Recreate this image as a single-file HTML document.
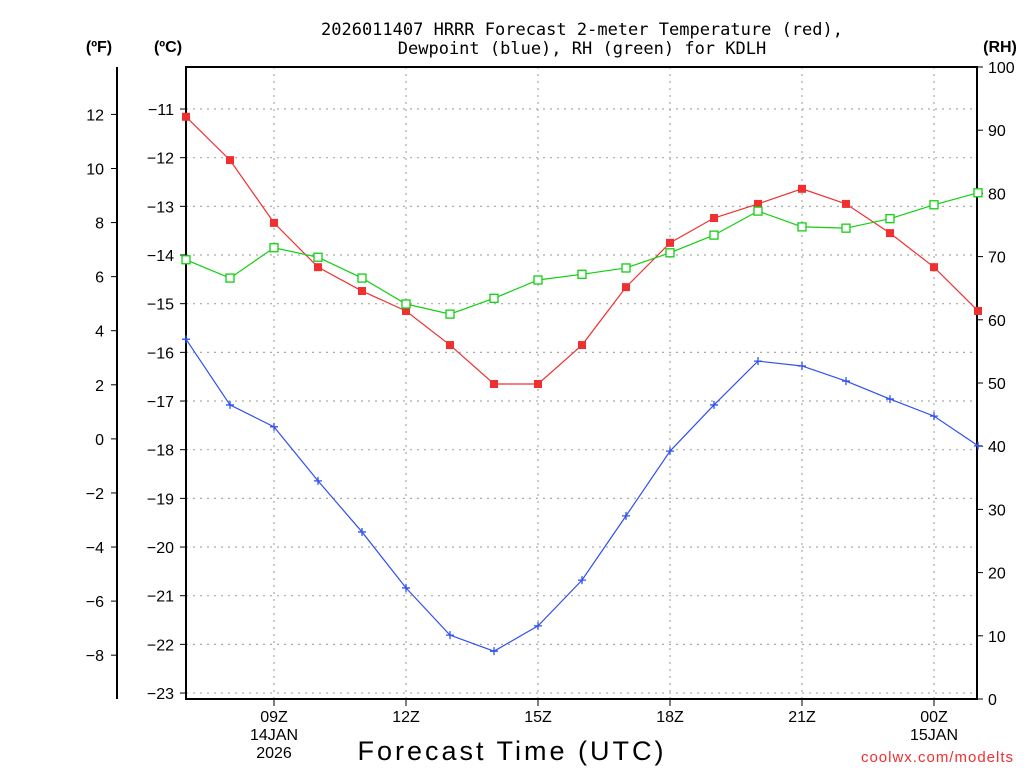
<!DOCTYPE html>
<html><head><meta charset="utf-8"><style>
body{margin:0;background:#fff;width:1024px;height:768px;overflow:hidden}
svg{font-family:"Liberation Sans","DejaVu Sans",sans-serif}
</style></head><body>
<svg id="chart" width="1024" height="768" viewBox="0 0 1024 768" xmlns="http://www.w3.org/2000/svg">
<g id="grid"></g>
<g id="axes"></g>
<g id="series"></g>
<text x="582" y="35" text-anchor="middle" font-size="17" fill="#000" font-family="DejaVu Sans Mono, Liberation Mono, monospace">2026011407 HRRR Forecast 2-meter Temperature (red),</text>
<text x="582" y="54" text-anchor="middle" font-size="17" fill="#000" font-family="DejaVu Sans Mono, Liberation Mono, monospace">Dewpoint (blue), RH (green) for KDLH</text>
<text x="99" y="52" text-anchor="middle" font-size="16" font-weight="bold">(ºF)</text>
<text x="168" y="52" text-anchor="middle" font-size="16" font-weight="bold">(ºC)</text>
<text x="1000" y="52" text-anchor="middle" font-size="16" font-weight="bold">(RH)</text>
<text x="512" y="760" text-anchor="middle" font-size="27" letter-spacing="3">Forecast Time (UTC)</text>
<text x="1014" y="762" text-anchor="end" font-size="15" fill="#f03030" letter-spacing="1">coolwx.com/modelts</text>
</svg>
<script>
const hours=[7,8,9,10,11,12,13,14,15,16,17,18,19,20,21,22,23,24,25];
const tempC=[-11.16,-12.05,-13.34,-14.25,-14.74,-15.15,-15.85,-16.65,-16.65,-15.85,-14.66,-13.75,-13.24,-12.95,-12.64,-12.95,-13.55,-14.25,-15.15];
const dewC=[-15.73,-17.08,-17.53,-18.64,-19.69,-20.84,-21.81,-22.14,-21.62,-20.68,-19.36,-18.03,-17.08,-16.18,-16.28,-16.59,-16.96,-17.31,-17.92];
const rh=[69.5,66.6,71.4,69.9,66.6,62.5,60.9,63.4,66.3,67.2,68.2,70.6,73.4,77.2,74.7,74.5,76.0,78.2,80.1];
const cTicks=[-11,-12,-13,-14,-15,-16,-17,-18,-19,-20,-21,-22,-23];
const fTicks=[12,10,8,6,4,2,0,-2,-4,-6,-8];
const rhTicks=[0,10,20,30,40,50,60,70,80,90,100];
const xTickHours=[9,12,15,18,21,24];
const xTickLabels=["09Z","12Z","15Z","18Z","21Z","00Z"];
const xTickSub={9:["14JAN","2026"],24:["15JAN"]};

const L=186,R=977,T=67,B=699;
const xs=h=>274+(h-9)*44;
const yc=c=>109+(-11-c)*48.67;
const yf=f=>yc((f-32)/1.8);
const yr=r=>B-r*(B-T)/100;
const NS="http://www.w3.org/2000/svg";
function mk(parent,tag,attrs,txt){const e=document.createElementNS(NS,tag);for(const k in attrs)e.setAttribute(k,attrs[k]);if(txt!==undefined)e.textContent=txt;document.getElementById(parent).appendChild(e);return e;}
const dash={stroke:"#aaa","stroke-width":1.2,"stroke-dasharray":"2,5"};
cTicks.forEach(c=>{const y=yc(c);
 let g=mk("grid","line",Object.assign({x1:L,x2:R,y1:y,y2:y},dash));
 
 
 let t=mk("axes","line",{x1:L-6,x2:L,y1:y,y2:y,stroke:"#000"});
 
 
 let l=mk("axes","text",{x:L-12,y:y+6,"text-anchor":"end","font-size":16},"\u2212"+Math.abs(c));
 
 
});
xTickHours.forEach((h,i)=>{const x=xs(h);
 let g=mk("grid","line",Object.assign({x1:x,x2:x,y1:T,y2:B},dash));
 
 
 let t=mk("axes","line",{x1:x,x2:x,y1:B,y2:B+7,stroke:"#000"});
 
 
 let l=mk("axes","text",{x:x,y:B+23,"text-anchor":"middle","font-size":16},xTickLabels[i]);
 
 
 (xTickSub[h]||[]).forEach((s,j)=>{let e=mk("axes","text",{x:x,y:B+41+j*18,"text-anchor":"middle","font-size":16},s);
 
 });
});
fTicks.forEach(f=>{const y=yf(f);
 let t=mk("axes","line",{x1:111,x2:117,y1:y,y2:y,stroke:"#000"});
 
 
 let l=mk("axes","text",{x:104,y:y+6,"text-anchor":"end","font-size":16},(f<0?"\u2212":"")+Math.abs(f));
 
 
});
rhTicks.forEach(r=>{const y=yr(r);
 let t=mk("axes","line",{x1:R,x2:R+6,y1:y,y2:y,stroke:"#000"});
 
 
 let l=mk("axes","text",{x:988,y:y+6,"font-size":16},String(r));
 
 
});
let fa=mk("axes","line",{x1:117,x2:117,y1:T,y2:B,stroke:"#000","stroke-width":2});


let box=mk("axes","rect",{x:L,y:T,width:R-L,height:B-T,fill:"none",stroke:"#000","stroke-width":2});



function line(vals,yf2,color,name){
 const pts=vals.map((v,i)=>xs(hours[i])+","+yf2(v)).join(" ");
 let p=mk("series","polyline",{points:pts,fill:"none",stroke:color,"stroke-width":1.2});
 
 
}
line(tempC,yc,"#f03030","temperature");
line(dewC,yc,"#3050f0","dewpoint");
line(rh,yr,"#10d010","rh");
tempC.forEach((v,i)=>{let m=mk("series","rect",{x:xs(hours[i])-4,y:yc(v)-4,width:8,height:8,fill:"#f03030"});
 
 });
dewC.forEach((v,i)=>{const x=xs(hours[i]),y=yc(v);
 let m=mk("series","path",{d:`M${x-4},${y}H${x+4}M${x},${y-4}V${y+4}`,stroke:"#3050f0","stroke-width":1.3});
 
 });
rh.forEach((v,i)=>{let m=mk("series","rect",{x:xs(hours[i])-4,y:yr(v)-4,width:8,height:8,fill:"#fff",stroke:"#10d010","stroke-width":1.3});
 
 });
</script>
</body></html>
